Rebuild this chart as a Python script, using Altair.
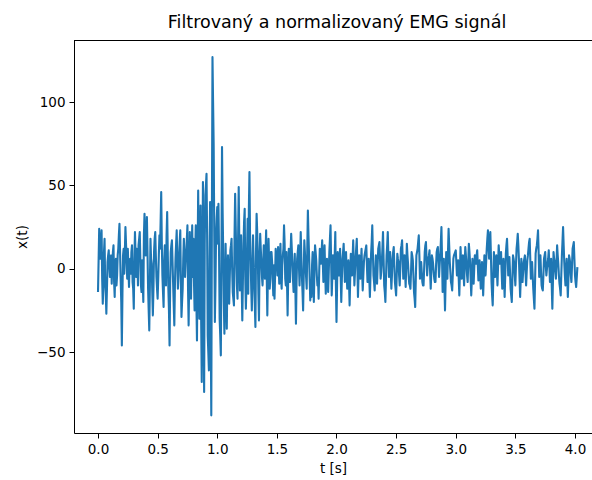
import altair as alt
import pandas as pd

# sample spacing of the hand-read series (seconds)
dt = 0.01

# samples at t = 0.00, 0.01, ... 4.02
sig_0 = [-14, 24, 6, 23, -21, 10, -8, -27, 4, 11,
         -5, 8, 3, 14, -17, 6, -4, 12, 27, -6,
         -46, 8, -3, 25, 4, 12, -11, 6, 10, -8,
         -24, 22, -5, 8, 14, 22, -10, 5, -20, 33,
         8, 31, -12, -37, 18, 3, -28, 10, 22, -5,
         -18, 8, 12, 46, -4, -23, 14, -10, 34, -12,
         -46, 10, 17, -9, -34, 6, 23, -12, 8, 23,
         -29, -12, 18, -5, 10, 26, -34, 22, -18, 26]
sig_1 = [18, -25, 26, -43, 47, -30, 38, -68, 52, -74,
         44, 57, -40, -61, 40, -88, 127, 74, -32, 20,
         37, 39, -30, -52, 73, 10, -39, 15, -36, 8,
         -21, 11, 18, -14, -22, 45, 5, -18, 49, -13,
         20, -31, 14, 36, -24, 10, -15, 58, 5, -25,
         20, -10, -35, 33, 8, -31, 21, 4, -10, 14,
         -6, 23, -28, 18, -12, 10, 4, -16, -18, 12,
         6, 13, -9, 15, -12, 8, 26, -6, 10, -28,
         12, -8, 21, 3, -14, 9, -33, 6, 14, -10,
         22, -5, -25, 17, 2, -12, 35, 8, -19, -17,
         10, -20, 14, 5, -10, -18, 12, 3, 17, -8,
         14, -15, 6, -14, 10, 26, -16, 8, -6, 22]
sig_2 = [-32, 10, -4, 12, -20, 6, 15, -8, 10, -12,
         5, -22, 9, -4, 17, -10, 6, 18, -17, 8,
         -6, 12, -13, 4, 10, 14, -8, 6, -17, 9,
         26, -4, -13, 8, -9, 12, 16, -6, 4, 22,
         -10, -20, 8, 22, -5, 10, -12, 6, 13, -8,
         -16, 9, 4, -10, 12, 17, -6, 8, -11, 15,
         3, -9, -12, 10, 5, -14, -23, 8, 12, 20,
         -6, 4, -8, -10, 10, 16, -4, 6, 11, -12,
         8, 3, -6, -8, 10, 13, -5, 8, 25, -14,
         6, -25, 10, -6, 24, 4, -8, -13, 6, 9]
sig_3 = [11, -4, 5, -16, 13, -6, 8, -10, 13, 2,
         -8, 15, 4, -16, 6, -9, 8, 3, 11, -7,
         5, -12, 4, -16, 8, -4, 12, 23, 6, 22,
         -8, -22, 10, -5, 8, -10, 14, 3, 10, -12,
         6, -17, 9, 18, -4, 7, -12, -20, 8, 3,
         -10, 12, 21, 5, -17, 6, -8, 4, 8, -10,
         5, 12, 18, -6, 4, -12, -24, 9, 14, 23,
         -5, 8, -10, -13, 6, 10, -4, 3, 11, -8,
         6, -24, 10, 4, -6, 14, 3, -9, -16, 8,
         25, 4, -10, 6, -17, 8, 3, -8, 12, 16,
         -4, -11, 1]

# in-between samples at t = 0.005, 0.015, ... 4.015
half_0 = [5, 15, 14, -6, -10, 18, -15, -12, 8, 2,
          6, -9, 10, -8, 2, -10, 8, 20, 10, -20,
          -15, 12, 10, 15, -6, 0, 4, -3, 14, -12,
          5, 8, 12, -10, 18, 6, -14, -8, 20, 15,
          20, 10, -25, -10, 6, -14, -12, 18, 8, -12,
          -6, 20, 28, 16, -14, 4, 2, 20, 10, -25,
          -10, 14, 4, -22, -10, 15, 5, -4, 16, -8,
          -20, 6, 8, 4, 18, -12, -5, 2, 8, -5]
half_1 = [-8, 10, -20, 5, 10, 6, -30, -10, -20, 15,
          50, 20, -50, 5, -30, 30, 100, 20, -10, 30,
          15, 10, -40, 5, 35, -20, -15, -10, -5, -12,
          -5, 14, 0, -18, 20, 25, -10, 20, 15, 5,
          -10, -8, 28, -5, -10, 30, 35, 20, -12, -5,
          5, -22, 10, 22, -15, 5, 12, -5, 2, 6,
          10, -5, -2, 4, -6, 10, -6, 2, -4, 8,
          -4, 2, 6, -6, 2, 12, 15, -10, -8, -5,
          -2, 10, 12, -6, -2, -12, -8, 10, 2, 6,
          8, -14, -5, 10, -5, 12, 20, -6, -8, 2,
          -6, -2, 10, -4, -6, -2, 8, 10, 4, 2,
          -2, -5, -4, -2, 18, 4, -4, 2, 8, -10]
half_2 = [-10, 4, 4, -4, -6, 10, 4, 2, -2, -4,
          -8, -6, 2, 6, 4, -2, 12, 2, -4, 2,
          4, -2, -4, 8, 12, 2, -2, -6, -4, 16,
          10, -8, -2, 0, 2, 14, 6, -2, 12, 6,
          -14, -6, 14, 8, 2, -2, -4, 10, 2, -12,
          -4, 6, -4, 0, 14, 6, 2, -2, 2, 8,
          -4, -10, -2, 8, -4, -18, -6, 10, 16, 8,
          -2, -2, -10, 0, 14, 6, 2, 8, -2, -2,
          6, -2, -8, 2, 12, 4, 2, 16, 6, -4,
          -10, -8, 2, 10, 14, -2, -10, -4, 8, 10]
half_3 = [4, 0, -6, -2, 4, 2, -2, 2, 8, -4,
          4, 10, -6, -6, -2, 0, 6, 8, 2, -2,
          -4, -4, -6, -4, 2, 4, 18, 14, 14, 8,
          -16, -6, 2, 2, -2, 2, 8, 6, -2, -4,
          -6, -4, 14, 8, 2, -2, -16, -6, 6, -4,
          2, 16, 14, -6, -6, -2, -2, 6, -2, -2,
          8, 16, 6, -2, -4, -18, -8, 12, 18, 10,
          2, -2, -12, -4, 8, 2, 0, 6, 2, -2,
          -10, -8, 6, -2, 4, 8, -4, -12, -4, 16,
          14, -4, -2, -6, -6, 6, -4, 2, 14, 6,
          -8, -5]

values = sig_0 + sig_1 + sig_2 + sig_3
halves = half_0 + half_1 + half_2 + half_3
times = [round(i * dt, 3) for i in range(len(values))]
half_times = [round(dt / 2 + i * dt, 3) for i in range(len(halves))]

x_ticks = [0.0, 0.5, 1.0, 1.5, 2.0, 2.5, 3.0, 3.5, 4.0]
y_ticks = [-50, 0, 50, 100]

df = pd.DataFrame({"t": times + half_times, "x": values + halves}).sort_values("t")

W = 518
H = 393
FONT = "DejaVu Sans"

line = alt.Chart(df).mark_line(color="#1f77b4", strokeWidth=2.1, clip=True,
                               strokeJoin="round").encode(
    x=alt.X("t:Q",
            scale=alt.Scale(domain=[-0.2013, 4.1426], nice=False, zero=False),
            axis=alt.Axis(values=x_ticks, format=".1f", title="t [s]", grid=False,
                          tickSize=5, tickColor="black", domainColor="black",
                          labelColor="black", titleColor="black",
                          labelFontSize=13.5, titleFontSize=13.5, titleFontWeight="normal",
                          labelFont=FONT, titleFont=FONT, labelPadding=4, titlePadding=6,
                          labelFlush=False)),
    y=alt.Y("x:Q",
            scale=alt.Scale(domain=[-98.6, 137.3], nice=False, zero=False),
            axis=alt.Axis(values=y_ticks, title="x(t)", grid=False,
                          tickSize=5, tickColor="black", domainColor="black",
                          labelColor="black", titleColor="black",
                          labelFontSize=13.5, titleFontSize=13.5, titleFontWeight="normal",
                          labelFont=FONT, titleFont=FONT, labelPadding=4, titlePadding=7,
                          labelFlush=False)),
    order="t:Q",
)

top_border = alt.Chart(df).mark_rule(color="black", strokeWidth=1).encode(
    x=alt.value(0), x2=alt.value(W), y=alt.value(0.5)
)

chart = alt.layer(line, top_border).properties(
    width=W, height=H,
    title=alt.TitleParams("Filtrovaný a normalizovaný EMG signál", font=FONT,
                          fontSize=17.5, fontWeight="normal", color="black",
                          anchor="middle", dx=4, offset=9),
    padding={"left": 74, "top": 40, "right": 0, "bottom": 47},
    autosize=alt.AutoSizeParams(type="none"),
).configure_view(stroke=None)

chart.save("out.html", embed_options={"renderer": "svg", "actions": False})
